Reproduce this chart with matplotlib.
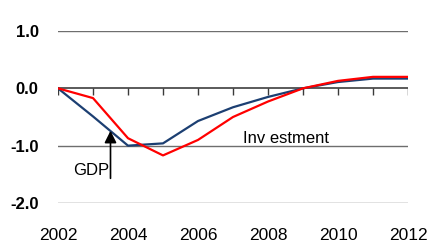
import matplotlib
matplotlib.use('Agg')
import matplotlib.pyplot as plt
import numpy as np

plt.rcParams['font.family'] = ['Liberation Sans', 'DejaVu Sans']

years = np.arange(2002, 2013)
gdp = [0.0, -0.49, -1.0, -0.96, -0.57, -0.33, -0.15, 0.0, 0.11, 0.17, 0.17]
investment = [0.0, -0.17, -0.87, -1.17, -0.9, -0.5, -0.23, 0.0, 0.13, 0.2, 0.2]
grid_levels = [1.0, -1.0, -2.0]
xtick_years = [2002, 2004, 2006, 2008, 2010, 2012]
ytick_vals = [1.0, 0.0, -1.0, -2.0]

fig = plt.figure(figsize=(4.28, 2.46), dpi=100)
ax = fig.add_axes([58 / 428, 1 - 203 / 246, 350 / 428, 172 / 246])

# horizontal rules and the zero axis with its year ticks
for lev in grid_levels:
    ax.axhline(lev, color='#6e6e6e', lw=1.0, zorder=1)
ax.axhline(0, color='#5a5a5a', lw=1.4, zorder=1)
ax.vlines(years, -0.12, 0, color='#3a3a3a', lw=1.0, zorder=1)

ax.plot(years, gdp, color='#1c3f72', lw=1.6, zorder=3)
ax.plot(years, investment, color='#ff0000', lw=1.6, zorder=4)

ax.annotate('', xy=(2003.5, -0.74), xytext=(2003.5, -1.57),
            arrowprops=dict(arrowstyle='-|>', color='black', lw=1.2,
                            mutation_scale=18, shrinkA=0, shrinkB=0))
ax.text(2003.45, -1.44, 'GDP', fontsize=12, ha='right', va='center')
ax.text(2007.28, -0.87, 'Inv estment', fontsize=12, ha='left', va='center')

ax.set_xlim(2002, 2012)
ax.set_ylim(-2.0, 1.0)
ax.set_xticks(xtick_years)
ax.set_xticklabels([str(y) for y in xtick_years], fontsize=12.5)
ax.set_yticks(ytick_vals)
ax.set_yticklabels(['%.1f' % v for v in ytick_vals], fontsize=12, fontweight='bold')
ax.tick_params(axis='x', length=0, pad=18)
ax.tick_params(axis='y', length=0, pad=14)
for s in ax.spines.values():
    s.set_visible(False)
ax.patch.set_visible(False)

fig.savefig('out.png', dpi=100)
